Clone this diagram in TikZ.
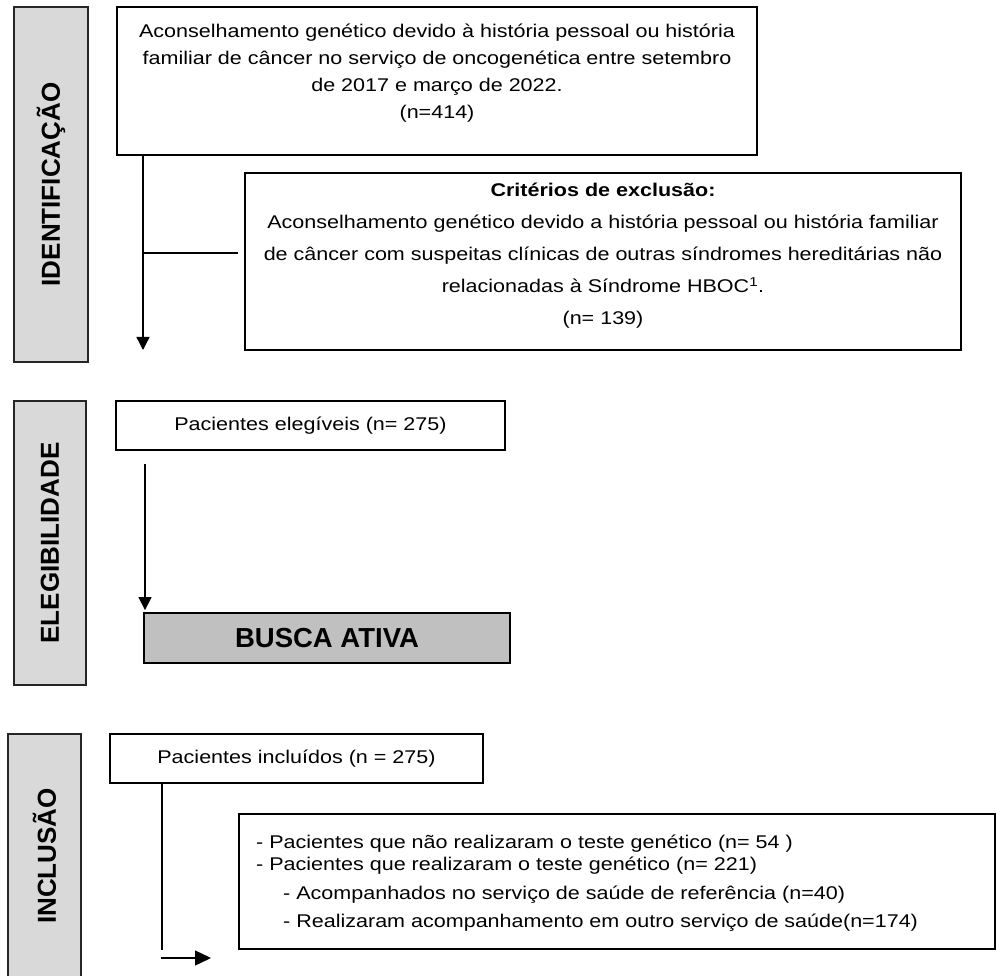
\documentclass[tikz,border=0pt]{standalone}
\usepackage{fontspec}
\setmainfont{Liberation Sans}
\newfontfamily\bodyfont[FakeStretch=1.17]{Liberation Sans}
\usetikzlibrary{arrows.meta}
\definecolor{sidegray}{HTML}{D9D9D9}
\definecolor{buscagray}{HTML}{C0C0C0}
\begin{document}
\begin{tikzpicture}[x=1pt,y=-1pt,
  frame/.style={draw=black, line width=1.8pt, fill=white, inner sep=0pt, rectangle, font=\bodyfont\fontsize{18.4}{24}\selectfont},
  sidebox/.style={draw=black!85, line width=1.8pt, fill=sidegray, inner sep=0pt, rotate=90, font=\fontsize{26}{26}\selectfont\bfseries},
  body/.style={inner sep=0pt, align=center, font=\bodyfont\fontsize{18.4}{27}\selectfont},
  conn/.style={line width=1.3pt},
  arr/.style={conn, -{Triangle[length=13pt,width=13pt]}}
]
\useasboundingbox (0,0) rectangle (996,976);

% phase labels
\node[sidebox, minimum width=355pt, minimum height=74pt] (sideID) at (51,184.5) {IDENTIFICAÇÃO};
\node[sidebox, minimum width=284pt, minimum height=72pt] (sideEL) at (50,543) {ELEGIBILIDADE};
\node[sidebox, minimum width=244pt, minimum height=73pt] (sideIN) at (44.5,856) {INCLUSÃO};

% identification
\node[frame, minimum width=640pt, minimum height=148pt] (ident) at (437,81) {};
\node[body] (identtext) at (437,73) {Aconselhamento genético devido à história pessoal ou história\\familiar de câncer no serviço de oncogenética entre setembro\\de 2017 e março de 2022.\\(n=414)};

\node[frame, minimum width=716pt, minimum height=177pt] (excl) at (603,261.5) {};
\node[body, font=\bodyfont\fontsize{18.4}{32}\selectfont] (excltext) at (603,256) {\textbf{Critérios de exclusão:}\\Aconselhamento genético devido a história pessoal ou história familiar\\de câncer com suspeitas clínicas de outras síndromes hereditárias não\\relacionadas à Síndrome HBOC\textsuperscript{1}.\\(n= 139)};

% eligibility
\node[frame, minimum width=389pt, minimum height=49pt] (eleg) at (310.5,425.5) {Pacientes elegíveis (n= 275)};
\node[frame, fill=buscagray, minimum width=366pt, minimum height=50pt, font=\fontsize{27.5}{27.5}\selectfont\bfseries] (busca) at (327,638) {BUSCA ATIVA};

% inclusion
\node[frame, minimum width=373pt, minimum height=49pt] (incl) at (296.5,758.5) {Pacientes incluídos (n = 275)};
\node[frame, minimum width=756pt, minimum height=135pt] (result) at (617,881.5) {};
\node[body, align=left, anchor=west, font=\bodyfont\fontsize{18.4}{22}\selectfont] (resulttext) at (256,883) {- Pacientes que não realizaram o teste genético (n= 54 )\\- Pacientes que realizaram o teste genético (n= 221)\\[7pt]\hspace*{27pt}- Acompanhados no serviço de saúde de referência (n=40)\\[6pt]\hspace*{27pt}- Realizaram acompanhamento em outro serviço de saúde(n=174)};

% connectors
\coordinate (idtip) at (143,350);
\coordinate (idjoin) at (143,253);
\draw[arr] (ident.south -| idtip) -- (idtip);
\draw[conn, shorten >=6pt] (idjoin) -- (idjoin -| excl.west);

\coordinate (elstart) at (145,464);
\draw[arr, shorten >=2pt] (elstart) -- (elstart |- busca.north);

\coordinate (inend) at (162,950);
\draw[conn] (incl.south -| inend) -- (inend);
\coordinate (arstart) at (161,958);
\coordinate (artip) at (211,958);
\draw[conn, -{Triangle[length=16pt,width=15pt]}] (arstart) -- (artip);
\end{tikzpicture}
\end{document}
